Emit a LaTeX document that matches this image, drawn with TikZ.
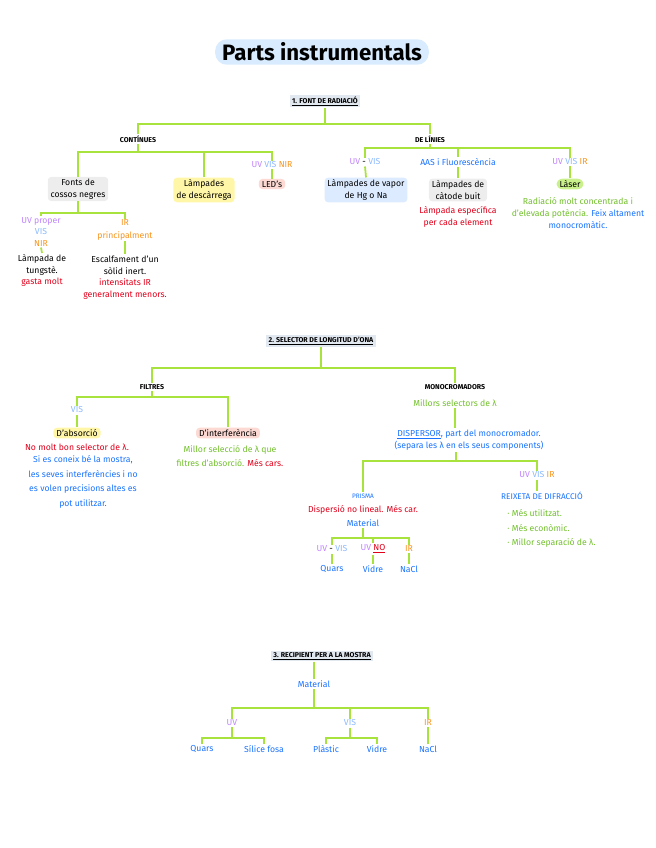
\documentclass[tikz,border=0pt]{standalone}
\usepackage{fontspec}
\setmainfont{Fira Sans}
\usepackage{tikz}
\usepackage{xcolor}
\usetikzlibrary{positioning}
\definecolor{linegreen}{HTML}{A8E23C}
\definecolor{uvpurple}{HTML}{C084FC}
\definecolor{visblue}{HTML}{8AB8FF}
\definecolor{irorange}{HTML}{F7941D}
\definecolor{txtblue}{HTML}{1A73FF}
\definecolor{txtred}{HTML}{E0001A}
\definecolor{txtgreen}{HTML}{72C02C}
\definecolor{hlyellow}{HTML}{FFF6A8}
\definecolor{hlpink}{HTML}{FCD9D2}
\definecolor{hlblue}{HTML}{DCEBFF}
\definecolor{hlgray}{HTML}{EDEDED}
\definecolor{hlgreen}{HTML}{C9F08A}
\definecolor{headbg}{HTML}{E2E8F0}
\definecolor{titlebg}{HTML}{D9ECFF}

\begin{document}
\begin{tikzpicture}[x=0.03cm, y=-0.03cm,
    txt/.style={font=\fontsize{7.4}{10.5}\selectfont, inner sep=1pt, align=center},
    caps/.style={font=\fontsize{6}{7}\selectfont\bfseries, inner sep=1pt, align=center},
    head/.style={caps, fill=headbg, inner xsep=2pt, inner ysep=1.5pt},
    hl/.style={fill=#1, rounded corners=3pt, inner xsep=2.5pt, inner ysep=1.5pt},
    conn/.style={draw=linegreen, line width=1.5pt}
]
\useasboundingbox (0,0) rectangle (656,848);

\node[fill=titlebg, rounded corners=10pt, inner xsep=6pt, inner ysep=3pt,
      font=\fontsize{19}{22}\selectfont\bfseries] (title) at (322,52) {Parts instrumentals};

% 1. font de radiació
\node[head] (h1) at (325,101) {\underline{1. FONT DE RADIACIÓ}};
\node[caps] (cont) at (138,139) {CONTÍNUES};
\node[caps] (lin) at (430,139) {DE LÍNIES};
\coordinate (b1) at (325,124);
\draw[conn] (h1.south) -- (b1) -| (cont.north);
\draw[conn] (b1) -| (lin.north);

\node[txt, hl=hlgray] (fonts) at (78,189) {Fonts de\\cossos negres};
\node[txt, hl=hlyellow] (desc) at (204,190) {Làmpades\\de descàrrega};
\node[txt] (ledband) at (272,165) {\textcolor{uvpurple}{UV} \textcolor{visblue}{VIS} \textcolor{irorange}{NIR}};
\node[txt, hl=hlpink] (led) at (272,184) {LED's};
\coordinate (b2) at (138,152);
\draw[conn] (cont.south) -- (b2) -| (fonts.north);
\draw[conn] (b2) -| (desc.north);
\draw[conn] (b2) -| (ledband.north);
\draw[conn] (ledband.south) -- (led.north);

\node[txt, font=\fontsize{7.4}{9.5}\selectfont] (uvp) at (41,232) {\textcolor{uvpurple}{UV proper}\\\textcolor{visblue}{VIS}\\\textcolor{irorange}{NIR}};
\node[txt] (tung) at (42,265) {Làmpada de\\tungstè.};
\node[txt, text=txtred] (gasta) at (42,282) {gasta molt};
\node[txt, text=irorange] (irp) at (125,230) {IR\\principalment};
\node[txt] (solid) at (125,265) {Escalfament d'un\\sòlid inert.};
\node[txt, text=txtred] (intens) at (125,289) {intensitats IR\\generalment menors.};
\coordinate (b3) at (78,213);
\draw[conn] (fonts.south) -- (b3) -| (uvp.north);
\draw[conn] (b3) -| (irp.north);
\draw[conn] (uvp.south) -- (tung.north);
\draw[conn] (irp.south) -- (solid.north);

\node[txt] (uvvis) at (365,162) {\textcolor{uvpurple}{UV} - \textcolor{visblue}{VIS}};
\node[txt, text=txtblue] (aas) at (458,162) {AAS i Fluorescència};
\node[txt] (uvvisir) at (570,162) {\textcolor{uvpurple}{UV} \textcolor{visblue}{VIS} \textcolor{irorange}{IR}};
\node[txt, hl=hlblue] (vapor) at (366,190) {Làmpades de vapor\\de Hg o Na};
\node[txt, hl=hlgray] (catode) at (458,190) {Làmpades de\\càtode buit};
\node[txt, text=txtred] (espec) at (458,217) {Làmpada específica\\per cada element};
\node[txt, hl=hlgreen, rounded corners=5pt] (laser) at (570,184) {Làser};
\node[txt, text=txtgreen] (laserdesc) at (578,213) {Radiació molt concentrada i\\d'elevada potència. \textcolor{txtblue}{Feix altament}\\\textcolor{txtblue}{monocromàtic.}};
\coordinate (b4) at (430,148);
\draw[conn] (lin.south) -- (b4) -| (uvvis.north);
\draw[conn] (b4) -| (aas.north);
\draw[conn] (b4) -| (uvvisir.north);
\draw[conn] (uvvis.south) -- (vapor.north);
\draw[conn] (aas.south) -- (catode.north);
\draw[conn] (uvvisir.south) -- (laser.north);

% 2. selector de longitud d'ona
\node[head] (h2) at (321,341) {\underline{2. SELECTOR DE LONGITUD D'ONA}};
\node[caps] (filt) at (152,387) {FILTRES};
\node[caps] (mono) at (455,387) {MONOCROMADORS};
\coordinate (b5) at (321,368);
\draw[conn] (h2.south) -- (b5) -| (filt.north);
\draw[conn] (b5) -| (mono.north);

\node[txt, text=visblue] (vis1) at (77,410) {VIS};
\node[txt, hl=hlyellow] (abs) at (77,433) {D'absorció};
\node[txt, text=txtred] (absred) at (77,447) {No molt bon selector de λ.};
\node[txt, text=txtblue, font=\fontsize{7.4}{12.5}\selectfont] (absblue) at (83,482) {Si es coneix bé la mostra,\\les seves interferències i no\\es volen precisions altes es\\pot utilitzar.};
\node[txt, hl=hlpink] (inter) at (228,433) {D'interferència};
\node[txt, text=txtgreen, font=\fontsize{7.4}{12.5}\selectfont] (interdesc) at (230,456) {Millor selecció de λ que\\filtres d'absorció. \textcolor{txtred}{Més cars.}};
\coordinate (b6) at (152,397);
\draw[conn] (filt.south) -- (b6) -| (vis1.north);
\draw[conn] (b6) -| (inter.north);
\draw[conn] (vis1.south) -- (abs.north);

\node[txt, text=txtgreen] (millors) at (455,403) {Millors selectors de λ};
\node[txt, text=txtblue] (disp) at (469,440) {\underline{DISPERSOR}, part del monocromador.\\(separa les λ en els seus components)};
\draw[conn] (millors.south) -- (millors.south |- disp.north);
\node[caps, text=txtblue, font=\fontsize{5.5}{7}\selectfont] (prisma) at (363,496) {PRISMA};
\node[txt, text=txtred] (prismared) at (363,510) {Dispersió no lineal. Més car.};
\node[txt, text=txtblue] (mat1) at (363,523) {Material};
\node[txt] (uvvisir2) at (537,475) {\textcolor{uvpurple}{UV} \textcolor{visblue}{VIS} \textcolor{irorange}{IR}};
\node[caps, text=txtblue, font=\fontsize{7}{8}\selectfont] (reix) at (542,496) {REIXETA DE DIFRACCIÓ};
\node[txt, text=txtgreen, align=left, anchor=north west, font=\fontsize{7.4}{12.6}\selectfont] (reixlist) at (506,508) {· Més utilitzat.\\· Més econòmic.\\· Millor separació de λ.};
\coordinate (b7) at (456,461);
\draw[conn] (disp.south -| b7) -- (b7) -| (prisma.north);
\draw[conn] (b7) -| (uvvisir2.north);
\draw[conn] (uvvisir2.south) -- (reix.north -| uvvisir2);

\node[txt] (pm1) at (332,549) {\textcolor{uvpurple}{UV} - \textcolor{visblue}{VIS}};
\node[txt] (pm2) at (373,549) {\textcolor{uvpurple}{UV} \textcolor{txtred}{\underline{NO}}};
\node[txt, text=irorange] (pm3) at (409,549) {IR};
\node[txt, text=txtblue] (quars1) at (332,569) {Quars};
\node[txt, text=txtblue] (vidre1) at (373,569) {Vidre};
\node[txt, text=txtblue] (nacl1) at (409,569) {NaCl};
\coordinate (b8) at (363,538);
\draw[conn] (mat1.south) -- (b8) -| (pm1.north);
\draw[conn] (b8) -| (pm2.north);
\draw[conn] (b8) -| (pm3.north);
\draw[conn] (pm1.south) -- (quars1.north);
\draw[conn] (pm2.south) -- (vidre1.north);
\draw[conn] (pm3.south) -- (nacl1.north);

% 3. recipient per a la mostra
\node[head] (h3) at (322,656) {\underline{3. RECIPIENT PER A LA MOSTRA}};
\node[txt, text=txtblue] (mat2) at (314,684) {Material};
\draw[conn] (h3.south -| mat2) -- (mat2.north);
\node[txt, text=uvpurple] (uv3) at (232,723) {UV};
\node[txt, text=visblue] (vis3) at (350,723) {VIS};
\node[txt, text=irorange] (ir3) at (428,723) {IR};
\coordinate (b9) at (314,708);
\draw[conn] (mat2.south) -- (b9) -| (uv3.north);
\draw[conn] (b9) -| (vis3.north);
\draw[conn] (b9) -| (ir3.north);

\node[txt, text=txtblue] (quars2) at (202,749) {Quars};
\node[txt, text=txtblue] (silice) at (264,749) {Sílice fosa};
\node[txt, text=txtblue] (plastic) at (326,749) {Plàstic};
\node[txt, text=txtblue] (vidre2) at (377,749) {Vidre};
\node[txt, text=txtblue] (nacl2) at (428,749) {NaCl};
\coordinate (b10) at (232,738);
\coordinate (b11) at (350,738);
\draw[conn] (uv3.south) -- (b10) -| (quars2.north);
\draw[conn] (b10) -| (silice.north);
\draw[conn] (vis3.south) -- (b11) -| (plastic.north);
\draw[conn] (b11) -| (vidre2.north);
\draw[conn] (ir3.south) -- (nacl2.north);
\end{tikzpicture}
\end{document}
